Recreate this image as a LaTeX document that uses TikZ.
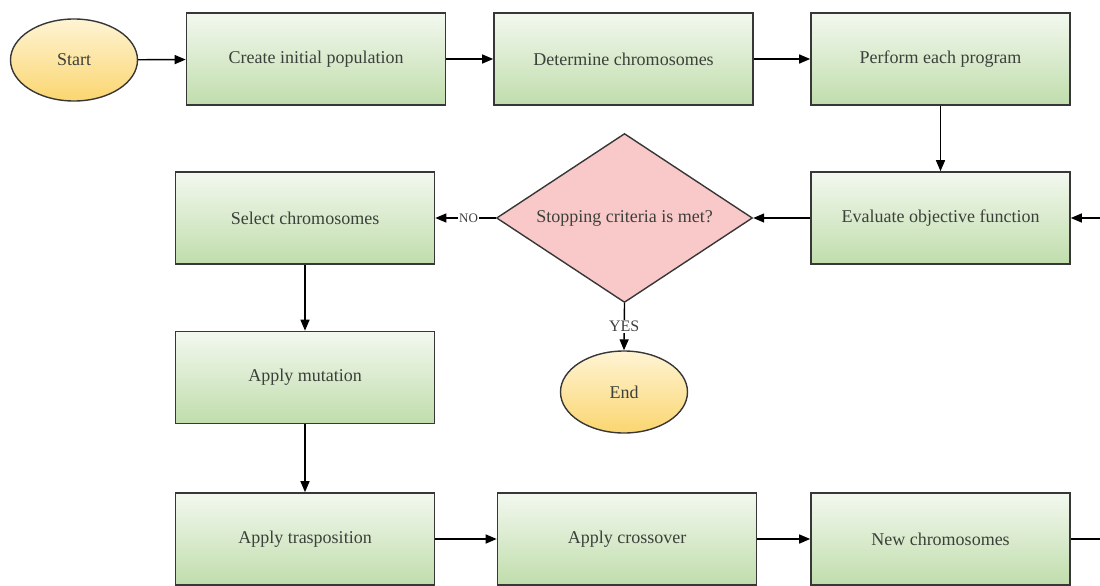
\documentclass[tikz,border=0pt]{standalone}
\usepackage{fontspec}
\setmainfont{Liberation Serif}
\newfontfamily\chartfont{Liberation Serif}
\usetikzlibrary{shapes.geometric,arrows.meta}

\definecolor{boxtop}{RGB}{243,248,239}
\definecolor{boxbottom}{RGB}{192,221,172}
\definecolor{ovaltop}{RGB}{254,244,212}
\definecolor{ovalbottom}{RGB}{251,214,112}
\definecolor{decision}{RGB}{249,201,201}
\definecolor{edgegrey}{RGB}{55,55,55}
\definecolor{labelgrey}{RGB}{60,64,58}

\tikzset{
  every node/.style={font=\chartfont},
  stepbox/.style={rectangle, draw=edgegrey, line width=1.6pt,
    top color=boxtop, bottom color=boxbottom,
    minimum width=259pt, minimum height=92pt, inner sep=0pt,
    text=labelgrey, font=\chartfont\fontsize{18}{20}\selectfont},
  terminal/.style={ellipse, draw=edgegrey, line width=1.4pt,
    top color=ovaltop, bottom color=ovalbottom,
    minimum width=127pt, minimum height=82pt, inner sep=0pt,
    text=labelgrey, font=\chartfont\fontsize{18}{20}\selectfont},
  test/.style={diamond, draw=edgegrey, line width=1.4pt, fill=decision,
    shape aspect=1.515,
    minimum width=256pt, minimum height=169pt, inner sep=0pt,
    text=labelgrey, font=\chartfont\fontsize{18}{20}\selectfont},
  flow/.style={draw=black, line width=1.4pt,
    -{Triangle[length=11pt,width=9pt]}},
  plain/.style={draw=black, line width=1.4pt},
  tag/.style={fill=white, inner sep=1pt, text=labelgrey}
}

\begin{document}
\begin{tikzpicture}[x=1pt,y=-1pt]
  \useasboundingbox (0,0) rectangle (1100,586);

  % top row
  \node[terminal] (start) at (74,60) {Start};
  \node[stepbox] (create) at (316,59) {Create initial population};
  \node[stepbox] (determine) at (623.5,59) {Determine chromosomes};
  \node[stepbox] (perform) at (940.5,59) {Perform each program};

  % evaluation and decision
  \node[stepbox] (evaluate) at (940.5,218) {Evaluate objective function};
  \node[test] (stop) at (624.5,218) {Stopping criteria is met?};
  \node[terminal] (finish) at (624,392) {End};

  % genetic operators
  \node[stepbox] (select) at (305,218) {Select chromosomes};
  \node[stepbox] (mutation) at (305,377.5) {Apply mutation};
  \node[stepbox] (transpose) at (305,539) {Apply trasposition};
  \node[stepbox] (crossover) at (627,539) {Apply crossover};
  \node[stepbox] (newgen) at (940.5,539) {New chromosomes};

  % loop ends leaving the page on the right
  \coordinate (loopin) at (1100,218);
  \coordinate (loopout) at (1100,539);

  % connectors
  \draw[flow] (start) -- (create);
  \draw[flow] (create) -- (determine);
  \draw[flow] (determine) -- (perform);
  \draw[flow] (perform) -- (evaluate);
  \draw[flow] (loopin) -- (evaluate);
  \draw[flow] (evaluate.west) -- (stop.east);
  \draw[flow] (stop.west) -- node[tag, pos=0.45, font=\chartfont\fontsize{13}{14}\selectfont] {NO} (select.east);
  \draw[flow] (stop.south) -- node[tag, pos=0.5, font=\chartfont\fontsize{16}{17}\selectfont] {YES} (finish.north);
  \draw[flow] (select) -- (mutation);
  \draw[flow] (mutation) -- (transpose);
  \draw[flow] (transpose) -- (crossover);
  \draw[flow] (crossover) -- (newgen);
  \draw[plain] (newgen.east) -- (loopout);
\end{tikzpicture}
\end{document}
